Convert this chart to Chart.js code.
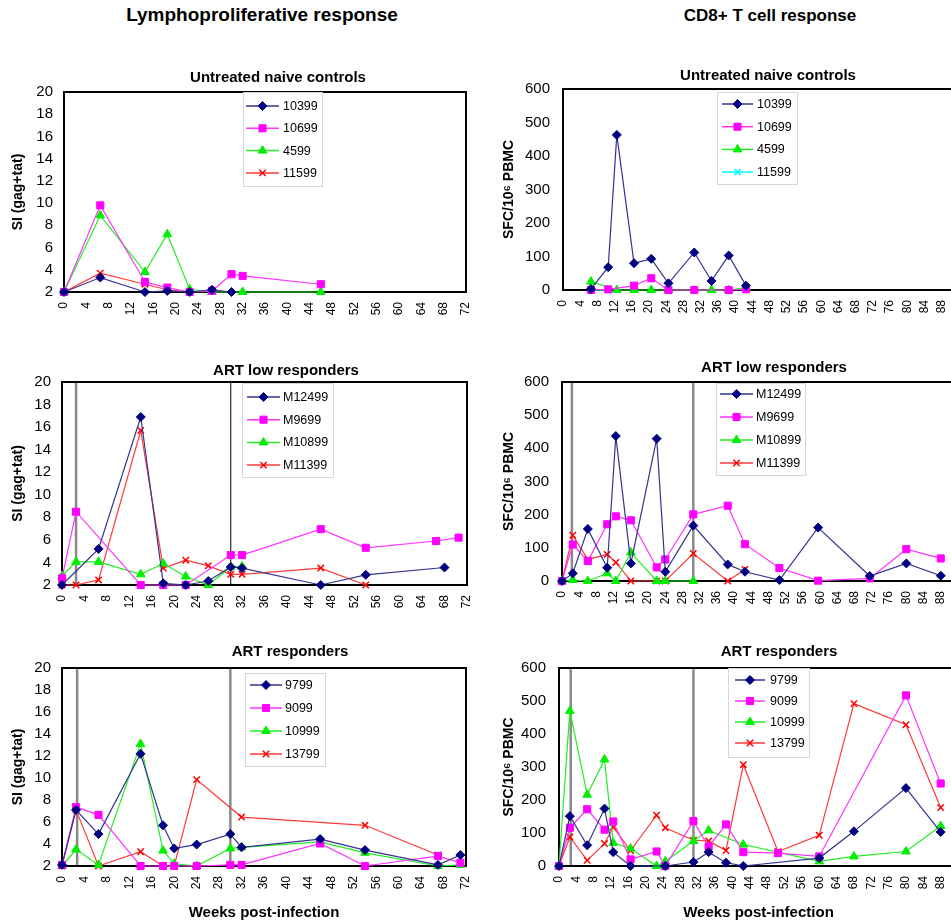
<!DOCTYPE html>
<html>
<head>
<meta charset="utf-8">
<script src="https://cdn.jsdelivr.net/npm/chart.js@4.4.1/dist/chart.umd.min.js"></script>
<style>
  html, body { margin: 0; padding: 0; background: #fff; overflow: hidden; width: 951px; height: 922px; }
  canvas { position: absolute; }
  .head { position: absolute; top: 4px; font: bold 19px "Liberation Sans", Arial, sans-serif; line-height: 22px; text-align: center; width: 420px; }
</style>
</head>
<body>
<div class="head" style="left:52px">Lymphoproliferative response</div>
<div class="head" style="left:560px;font-size:17px;top:5px">CD8+ T cell response</div>
<canvas id="p1" width="475" height="300" style="left:0;top:40px"></canvas>
<canvas id="p2" width="500" height="300" style="left:475px;top:40px"></canvas>
<canvas id="p3" width="475" height="290" style="left:0;top:340px"></canvas>
<canvas id="p4" width="500" height="290" style="left:475px;top:340px"></canvas>
<canvas id="p5" width="475" height="292" style="left:0;top:630px"></canvas>
<canvas id="p6" width="500" height="292" style="left:475px;top:630px"></canvas>
<script>
// animal ids per group
const naiveIds = ['10399', '10699', '4599', '11599'];
const lowIds = ['M12499', 'M9699', 'M10899', 'M11399'];
const respIds = ['9799', '9099', '10999', '13799'];

// ART start / stop (weeks) shown as vertical lines
const artLpLow = [2.5, 30];
const artCdLow = [2.3, 30.5];
const artLpResp = [2.7, 30];
const artCdResp = [2.7, 31];

// Lymphoproliferative, untreated naive controls: [week, SI]
const lpNaive10399 = [[0,2],[6.5,3.3],[14.5,2],[18.5,2.1],[22.5,2],[26.5,2.2],[30,2]];
const lpNaive10699 = [[0,2],[6.5,9.8],[14.5,2.9],[18.5,2.4],[22.5,2],[26.5,2.1],[30,3.6],[32,3.45],[46,2.7]];
const lpNaive4599 = [[0,2],[6.5,8.9],[14.5,3.8],[18.5,7.2],[22.5,2.25],[26.5,2],[32,2],[46,2]];
const lpNaive11599 = [[0,2],[6.5,3.7],[14.5,2.7],[18.5,2.2],[22.5,2]];

// CD8+, untreated naive controls: [week, SFC/10^6 PBMC]
const cdNaive10399 = [[6.5,3],[10.5,68],[12.5,463],[16.5,80],[20.5,93],[24.5,20],[30.5,112],[34.5,27],[38.5,103],[42.5,13]];
const cdNaive10699 = [[6.5,0],[10.5,2],[16.5,13],[20.5,35],[24.5,0],[30.5,0],[38.5,0],[42.5,2]];
const cdNaive4599 = [[6.5,25],[12.5,0],[16.5,0],[20.5,0],[24.5,0],[34.5,0],[38.5,0],[42.5,7]];
const cdNaive11599 = [[6.5,0],[10.5,0]];

// Lymphoproliferative, ART low responders
const lpLowM12499 = [[0,2],[6.5,5.2],[14,16.9],[18,2.15],[22,2],[26,2.35],[30,3.6],[32,3.5],[46,2],[54,2.9],[68,3.55]];
const lpLowM9699 = [[0,2.6],[2.5,8.5],[14,2],[18,2],[22,2],[30,4.65],[32,4.65],[46,6.95],[54,5.3],[66.5,5.9],[70.5,6.2]];
const lpLowM10899 = [[0,2.8],[2.5,4.05],[6.5,4.05],[14,2.95],[18,3.9],[22,2.75],[26,2],[30,3.6],[32,3.65]];
const lpLowM11399 = [[0,2],[2.5,2],[6.5,2.45],[14,15.7],[18,3.5],[22,4.2],[26,3.7],[30,2.95],[32,2.95],[46,3.5],[54,2]];

// CD8+, ART low responders
const cdLowM12499 = [[0,0],[2.5,23],[6,157],[10.5,40],[12.5,437],[16,53],[22,429],[24,28],[30.5,167],[38.5,50],[42.5,28],[50.5,3],[59.5,161],[71.5,15],[80,53],[88,16]];
const cdLowM9699 = [[0,0],[2.5,110],[6,60],[10.5,171],[12.5,195],[16,183],[22,41],[24,65],[30.5,201],[38.5,227],[42.5,111],[50.5,39],[59.5,1],[71.5,8],[80,96],[88,68]];
const cdLowM10899 = [[0,0],[2.5,3],[6,0],[10.5,23],[12.5,0],[16,86],[22,0],[24,0],[30.5,0]];
const cdLowM11399 = [[0,0],[2.5,138],[6,65],[10.5,80],[12.5,56],[16,0],[22,0],[24,0],[30.5,83],[38.5,0],[42.5,35]];

// Lymphoproliferative, ART responders
const lpResp9799 = [[0,2.1],[2.5,7.1],[6.5,4.9],[14,12.2],[18,5.7],[20,3.6],[24,3.95],[30,4.9],[32,3.7],[46,4.45],[54,3.45],[67,2.1],[71,3]];
const lpResp9099 = [[0,2.1],[2.5,7.35],[6.5,6.65],[14,2],[18,2],[20,2],[24,2],[30,2.1],[32,2.1],[46,4.05],[54,2],[67,2.9],[71,2.3]];
const lpResp10999 = [[0,2],[2.5,3.5],[6.5,2.1],[14,13.1],[18,3.4],[20,2.2],[24,2],[30,3.6],[32,3.7],[46,4.2],[54,3.2],[67,2],[71,2.1]];
const lpResp13799 = [[0,2],[2.5,7.1],[6.5,2],[14,3.3],[18,2],[20,2],[24,9.85],[32,6.45],[54,5.7],[67,3]];

// CD8+, ART responders
const cdResp9799 = [[0,0],[2.5,151],[6.5,63],[10.5,174],[12.5,42],[16.5,0],[24.5,0],[31,12],[34.5,42],[38.5,10],[42.5,0],[60,24],[68,105],[80,236],[88,103]];
const cdResp9099 = [[0,0],[2.5,116],[6.5,172],[10.5,110],[12.5,135],[16.5,20],[22.5,44],[24.5,0],[31,136],[34.5,58],[38.5,126],[42.5,42],[50.5,39],[60,29],[80,517],[88,250]];
const cdResp10999 = [[0,0],[2.5,470],[6.5,216],[10.5,323],[12.5,70],[16.5,53],[22.5,0],[24.5,14],[31,76],[34.5,108],[42.5,65],[60,14],[68,29],[80,44],[88,121]];
const cdResp13799 = [[0,0],[2.5,88],[6.5,17],[10.5,68],[12.5,118],[16.5,47],[22.5,154],[24.5,116],[31,78],[34.5,76],[38.5,47],[42.5,307],[50.5,44],[60,93],[68,492],[80,428],[88,177]];

Chart.defaults.font.family = '"Liberation Sans", Arial, sans-serif';
Chart.defaults.color = '#000';

const looks = [
  { color: '#000080', line: '#34348f', style: 'rectRot', r: 4.5 },
  { color: '#ff00ff', line: '#ff33ff', style: 'rect', r: 5 },
  { color: '#00ee00', line: '#22ee22', style: 'triangle', r: 5 },
  { color: '#ff0000', line: '#ff3a3a', style: 'crossRot', r: 4.5 }
];

// frame, ART lines, panel title and boxed legend
const decor = {
  id: 'decor',
  beforeDatasetsDraw(chart, args, o) {
    const { ctx, chartArea: a } = chart;
    const x = chart.scales.x;
    ctx.save();
    (o.marks || []).forEach((m, i) => {
      const px = x.getPixelForValue(m);
      ctx.strokeStyle = o.markColors[i];
      ctx.lineWidth = o.markWidths[i];
      ctx.beginPath();
      ctx.moveTo(px, a.top);
      ctx.lineTo(px, a.bottom);
      ctx.stroke();
    });
    ctx.strokeStyle = '#000';
    ctx.lineWidth = 2;
    ctx.strokeRect(a.left, a.top, a.right - a.left, a.bottom - a.top);
    ctx.restore();
  },
  afterDraw(chart, args, o) {
    const ctx = chart.ctx;
    ctx.save();
    ctx.fillStyle = '#000';
    ctx.font = 'bold 15px "Liberation Sans", Arial, sans-serif';
    ctx.textAlign = 'center';
    ctx.textBaseline = 'middle';
    ctx.fillText(o.title, o.tx - o.ox, o.ty - o.oy);

    const L = o.legend;
    ctx.fillStyle = '#fff';
    ctx.fillRect(L.x - o.ox, L.y - o.oy, L.w, L.h);
    ctx.strokeStyle = '#d6d6d6';
    ctx.lineWidth = 1;
    ctx.strokeRect(L.x - o.ox + 0.5, L.y - o.oy + 0.5, L.w, L.h);
    ctx.font = '12.5px "Liberation Sans", Arial, sans-serif';
    ctx.textAlign = 'left';
    chart.data.datasets.forEach((ds, i) => {
      const y = L.y0 + i * L.dy - o.oy;
      ctx.strokeStyle = ds.borderColor;
      ctx.lineWidth = 1.5;
      ctx.beginPath();
      ctx.moveTo(L.lx0 - o.ox, y);
      ctx.lineTo(L.lx1 - o.ox, y);
      ctx.stroke();
      ctx.fillStyle = ds.pointBackgroundColor;
      ctx.strokeStyle = ds.pointBorderColor;
      ctx.lineWidth = ds.pointBorderWidth;
      Chart.helpers.drawPoint(ctx, { pointStyle: ds.pointStyle, radius: ds.pointRadius, borderWidth: ds.pointBorderWidth, rotation: 0 },
        (L.lx0 + L.lx1) / 2 - o.ox, y);
      ctx.fillStyle = '#000';
      ctx.fillText(ds.label, L.tx - o.ox, y + 0.5);
    });
    ctx.restore();
  }
};

function makeSets(ids, series, fourthColor) {
  return series.map((data, i) => {
    const lk = looks[i];
    const c = (i === 3 && fourthColor) ? fourthColor : lk.color;
    const lc = (i === 3 && fourthColor) ? fourthColor : lk.line;
    return {
      label: ids[i], data: data,
      borderColor: lc, borderWidth: 1.2,
      pointStyle: lk.style, pointRadius: lk.r,
      pointBackgroundColor: c, pointBorderColor: c,
      pointBorderWidth: lk.style === 'crossRot' ? 1.5 : 1,
      tension: 0, fill: false, clip: false
    };
  });
}

function panel(id, p) {
  const lp = p.kind === 'lp';
  new Chart(document.getElementById(id), {
    type: 'line',
    data: { datasets: p.sets },
    plugins: [decor],
    options: {
      responsive: false,
      animation: false,
      events: [],
      layout: { padding: { top: p.padTop, right: p.padRight, left: 0, bottom: 0 } },
      plugins: {
        legend: { display: false },
        tooltip: { enabled: false },
        decor: p.decor
      },
      scales: {
        x: {
          type: 'linear', min: 0, max: lp ? 72 : 92,
          grid: { display: false, drawTicks: false },
          border: { display: false },
          ticks: { stepSize: 4, autoSkip: false, minRotation: 90, maxRotation: 90, padding: 10, font: { size: 12 } },
          title: { display: !!p.xTitle, text: 'Weeks post-infection', font: { size: 15, weight: 'bold' }, padding: { top: 0, bottom: 0 } },
          // fixed axis height; no extra side room for the end labels
          afterFit: s => { s.height = p.xH; s.paddingLeft = 0; s.paddingRight = 0; }
        },
        y: {
          min: lp ? 2 : 0, max: lp ? 20 : 600,
          grid: { display: false, drawTicks: false },
          border: { display: false },
          ticks: { stepSize: lp ? 2 : 100, padding: lp ? 11 : 13, font: { size: 15 } },
          title: {
            display: true, text: lp ? 'SI (gag+tat)' : 'SFC/10\u2076 PBMC',
            font: { size: 14, weight: 'bold' },
            padding: { top: lp ? 10 : 25.6, bottom: 0 }
          },
          afterFit: s => { s.width = p.yW; }
        }
      }
    }
  });
}

const greyMark = ['#8a8a8a', '#8a8a8a'];

panel('p1', {
  kind: 'lp', padTop: 52, padRight: 9, yW: 64, xH: 48,
  sets: makeSets(naiveIds, [lpNaive10399, lpNaive10699, lpNaive4599, lpNaive11599]),
  decor: { ox: 0, oy: 40, title: 'Untreated naive controls', tx: 278, ty: 78,
    legend: { x: 243, y: 92, w: 79, h: 94, y0: 106, dy: 22.3, lx0: 246, lx1: 279, tx: 283 } }
});
panel('p2', {
  kind: 'cd', padTop: 49, padRight: 16, yW: 88, xH: 50,
  sets: makeSets(naiveIds, [cdNaive10399, cdNaive10699, cdNaive4599, cdNaive11599], '#00ffff'),
  decor: { ox: 475, oy: 40, title: 'Untreated naive controls', tx: 768, ty: 76,
    legend: { x: 717, y: 92, w: 80, h: 92, y0: 104, dy: 22.7, lx0: 722, lx1: 753, tx: 757 } }
});
panel('p3', {
  kind: 'lp', padTop: 42, padRight: 8, yW: 62, xH: 45,
  sets: makeSets(lowIds, [lpLowM12499, lpLowM9699, lpLowM10899, lpLowM11399]),
  decor: { ox: 0, oy: 340, title: 'ART low responders', tx: 286, ty: 371,
    marks: artLpLow, markColors: ['#8a8a8a', '#000'], markWidths: [2.5, 1],
    legend: { x: 242, y: 383, w: 91, h: 94, y0: 397, dy: 22.7, lx0: 247, lx1: 280, tx: 283 } }
});
panel('p4', {
  kind: 'cd', padTop: 42, padRight: 17, yW: 87, xH: 49,
  sets: makeSets(lowIds, [cdLowM12499, cdLowM9699, cdLowM10899, cdLowM11399]),
  decor: { ox: 475, oy: 340, title: 'ART low responders', tx: 774, ty: 368,
    marks: artCdLow, markColors: greyMark, markWidths: [2.5, 2.5],
    legend: { x: 716, y: 383, w: 89, h: 92, y0: 394, dy: 23, lx0: 720, lx1: 753, tx: 756 } }
});
panel('p5', {
  kind: 'lp', padTop: 38, padRight: 9, yW: 62, xH: 56, xTitle: true,
  sets: makeSets(respIds, [lpResp9799, lpResp9099, lpResp10999, lpResp13799]),
  decor: { ox: 0, oy: 630, title: 'ART responders', tx: 290, ty: 652,
    marks: artLpResp, markColors: greyMark, markWidths: [2.5, 2.5],
    legend: { x: 245, y: 673, w: 80, h: 93, y0: 685, dy: 23, lx0: 250, lx1: 282, tx: 285 } }
});
panel('p6', {
  kind: 'cd', padTop: 38, padRight: 17, yW: 84, xH: 56, xTitle: true,
  sets: makeSets(respIds, [cdResp9799, cdResp9099, cdResp10999, cdResp13799]),
  decor: { ox: 475, oy: 630, title: 'ART responders', tx: 779, ty: 652,
    marks: artCdResp, markColors: greyMark, markWidths: [2.5, 2.5],
    legend: { x: 728, y: 668, w: 81, h: 89, y0: 680, dy: 21, lx0: 735, lx1: 765, tx: 770 } }
});
</script>
</body>
</html>
